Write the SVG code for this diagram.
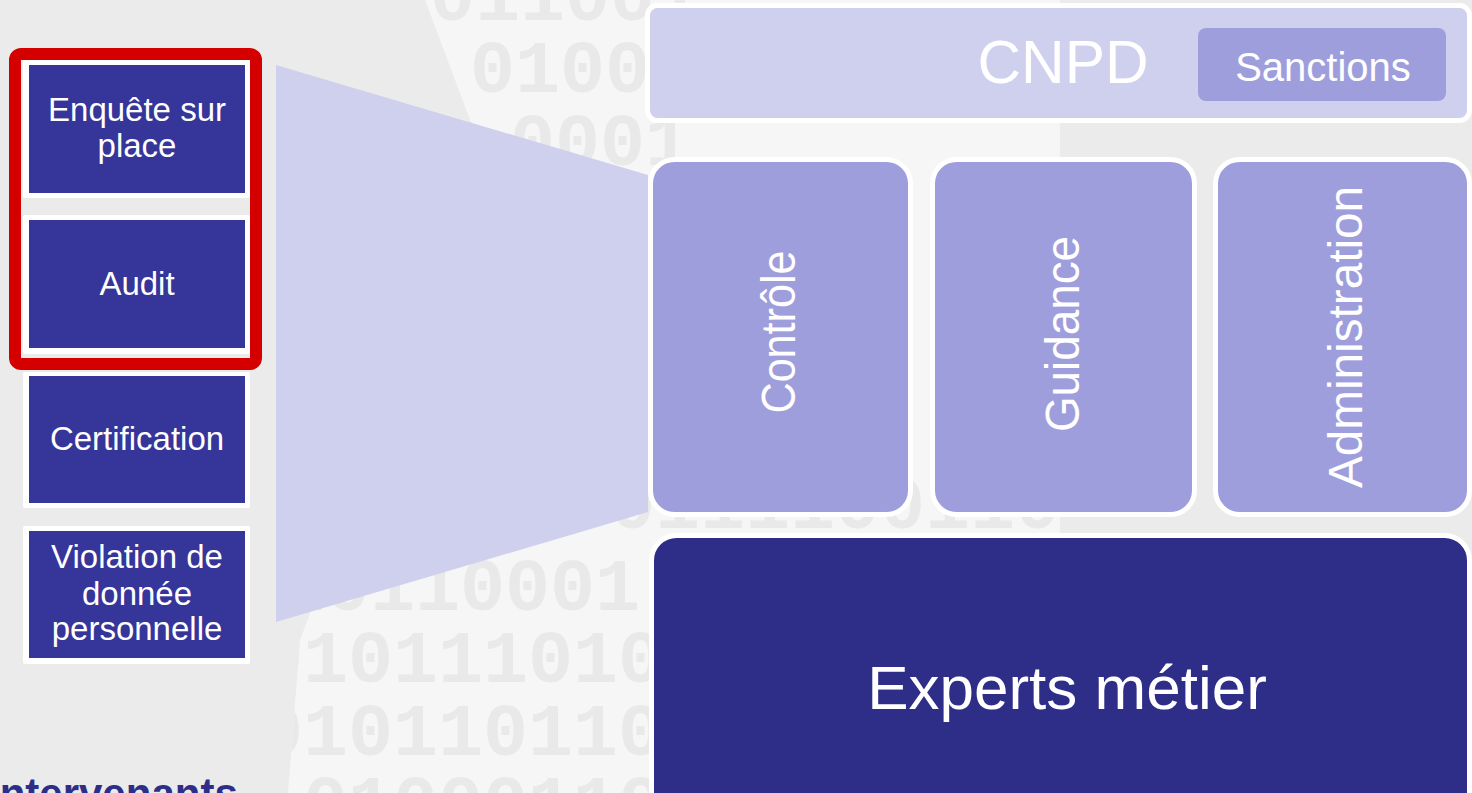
<svg xmlns="http://www.w3.org/2000/svg" width="1472" height="793" viewBox="0 0 1472 793">
<style>
.bg{fill:#ebebeb}
.wm{fill:#f6f6f6}
.dig{font-family:"Liberation Mono",monospace;font-weight:bold;font-size:75px;fill:#e9e9e9}
.lout{fill:#ffffff}
.lin{fill:#35359a}
.ltxt{font-family:"Liberation Sans",Arial,sans-serif;font-size:33px;fill:#ffffff;text-anchor:middle}
.col{fill:#9f9edd;stroke:#ffffff;stroke-width:5}
.ctxt{font-family:"Liberation Sans",Arial,sans-serif;font-size:48px;fill:#ffffff;text-anchor:middle}
</style>
<defs>
<clipPath id="wmclip">
<polygon points="425,0 1060,0 1060,793 288,793 300,640 330,560 520,190 470,120"/>
</clipPath>
</defs>
<rect class="bg" x="0" y="0" width="1472" height="793"/>
<g id="watermark" clip-path="url(#wmclip)">
<rect class="wm" x="0" y="0" width="1472" height="793"/>
<text class="dig"><tspan x="430" y="20">011001</tspan><tspan x="470" y="92">0100</tspan><tspan x="510" y="165">0001</tspan></text>
<text class="dig" x="610" y="528">0111100110</text>
<text class="dig"><tspan x="280" y="610">10110001</tspan><tspan x="258" y="682">0101110101</tspan><tspan x="258" y="755">0101101101</tspan><tspan x="258" y="827">1010001101</tspan></text>
</g>
<g id="connectors">
<polygon points="276,65 648,175 648,512 276,622" fill="#cfd0ee"/>
</g>
<g id="node-enquete">
<rect class="lout" x="23" y="60" width="227" height="138" rx="2"/>
<rect class="lin" x="29" y="65" width="216" height="128"/>
<text class="ltxt" x="137" y="121">Enquête sur</text>
<text class="ltxt" x="137" y="157">place</text>
</g>
<g id="node-audit">
<rect class="lout" x="23" y="215" width="227" height="139" rx="2"/>
<rect class="lin" x="29" y="220" width="216" height="128"/>
<text class="ltxt" x="137" y="295">Audit</text>
</g>
<g id="node-certification">
<rect class="lout" x="23" y="372" width="227" height="136" rx="2"/>
<rect class="lin" x="29" y="376" width="216" height="127"/>
<text class="ltxt" x="137" y="450">Certification</text>
</g>
<g id="node-violation">
<rect class="lout" x="23" y="526" width="227" height="138" rx="2"/>
<rect class="lin" x="29" y="531" width="216" height="127"/>
<text class="ltxt" x="137" y="568">Violation de</text>
<text class="ltxt" x="137" y="605">donnée</text>
<text class="ltxt" x="137" y="640">personnelle</text>
</g>
<g id="highlight">
<rect x="15" y="54" width="241" height="310" rx="6" fill="none" stroke="#d40000" stroke-width="12"/>
</g>
<g id="node-cnpd">
<rect x="647.5" y="5.5" width="822" height="115" rx="10" fill="#cfd0ee" stroke="#ffffff" stroke-width="5"/>
<text x="1063" y="83" font-family="Liberation Sans, Arial, sans-serif" font-size="62" fill="#ffffff" text-anchor="middle" textLength="171" lengthAdjust="spacingAndGlyphs">CNPD</text>
</g>
<g id="node-sanctions">
<rect x="1198" y="28" width="248" height="73" rx="8" fill="#9f9edd"/>
<text x="1323" y="81" font-family="Liberation Sans, Arial, sans-serif" font-size="40" fill="#ffffff" text-anchor="middle">Sanctions</text>
</g>
<g id="node-controle">
<rect class="col" x="650.5" y="159.5" width="260" height="355" rx="24"/>
<text class="ctxt" transform="translate(795,332) rotate(-90)" textLength="163" lengthAdjust="spacingAndGlyphs">Contrôle</text>
</g>
<g id="node-guidance">
<rect class="col" x="932.5" y="159.5" width="262" height="355" rx="24"/>
<text class="ctxt" transform="translate(1079,334) rotate(-90)" textLength="196" lengthAdjust="spacingAndGlyphs">Guidance</text>
</g>
<g id="node-administration">
<rect class="col" x="1215.5" y="159.5" width="254" height="355" rx="24"/>
<text class="ctxt" transform="translate(1362,337) rotate(-90)" textLength="302" lengthAdjust="spacingAndGlyphs">Administration</text>
</g>
<g id="node-experts">
<rect x="651.5" y="535.5" width="818" height="300" rx="25" fill="#2e2e88" stroke="#ffffff" stroke-width="5"/>
<text x="1067" y="709" font-family="Liberation Sans, Arial, sans-serif" font-size="62" fill="#ffffff" text-anchor="middle">Experts métier</text>
</g>
<g id="title">
<text x="-12" y="808" font-family="Liberation Sans, Arial, sans-serif" font-size="42" font-weight="bold" fill="#2e2e88">intervenants</text>
</g>
</svg>
